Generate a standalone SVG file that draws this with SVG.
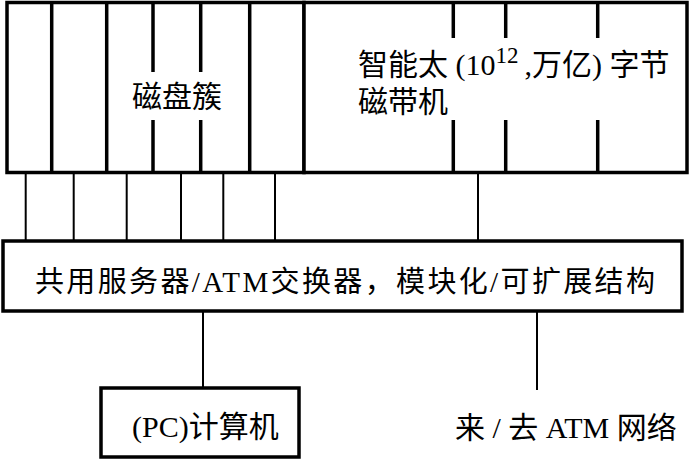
<svg xmlns="http://www.w3.org/2000/svg" width="689" height="460" viewBox="0 0 689 460">
<style>
.box{fill:#fff;stroke:#000;stroke-width:3.5}
.div{stroke:#000;stroke-width:3.5;fill:none}
.con{stroke:#000;stroke-width:2;fill:none}
text{font-family:"Liberation Serif","Noto Sans CJK SC",serif;fill:#000}
.t{font-size:30px}
</style>
<rect width="689" height="460" fill="#fff"/>
<g id="connectors">
<line class="con" x1="25.7" y1="172" x2="25.7" y2="241"/>
<line class="con" x1="73.7" y1="172" x2="73.7" y2="241"/>
<line class="con" x1="126.7" y1="172" x2="126.7" y2="241"/>
<line class="con" x1="181" y1="172" x2="181" y2="241"/>
<line class="con" x1="223.3" y1="172" x2="223.3" y2="241"/>
<line class="con" x1="275" y1="172" x2="275" y2="241"/>
<line class="con" x1="478" y1="172" x2="478" y2="241"/>
<line class="con" x1="203" y1="311" x2="203" y2="388"/>
<line class="con" x1="537" y1="311" x2="537" y2="390"/>
</g>
<g id="disk-cluster">
<rect class="box" x="7" y="2.5" width="297" height="170"/>
<line class="div" x1="51.7" y1="2.5" x2="51.7" y2="172.5"/>
<line class="div" x1="106.7" y1="2.5" x2="106.7" y2="172.5"/>
<line class="div" x1="153" y1="2.5" x2="153" y2="72"/>
<line class="div" x1="153" y1="120" x2="153" y2="172.5"/>
<line class="div" x1="200.7" y1="2.5" x2="200.7" y2="72"/>
<line class="div" x1="200.7" y1="120" x2="200.7" y2="172.5"/>
<line class="div" x1="249.7" y1="2.5" x2="249.7" y2="172.5"/>
<text class="t" x="132" y="107">磁盘簇</text>
</g>
<g id="tape">
<rect class="box" x="304" y="2.5" width="383" height="170"/>
<line class="div" x1="453.3" y1="2.5" x2="453.3" y2="38"/>
<line class="div" x1="453.3" y1="120" x2="453.3" y2="172.5"/>
<line class="div" x1="505.7" y1="2.5" x2="505.7" y2="38"/>
<line class="div" x1="505.7" y1="120" x2="505.7" y2="172.5"/>
<line class="div" x1="597.7" y1="2.5" x2="597.7" y2="38"/>
<line class="div" x1="597.7" y1="120" x2="597.7" y2="172.5"/>
<text class="t" x="358" y="75">智能太 (10<tspan font-size="23" dy="-12">12</tspan><tspan dx="6" dy="12">,万亿) 字节</tspan></text>
<text class="t" x="358" y="112">磁带机</text>
</g>
<g id="switch">
<rect class="box" x="3" y="241" width="679" height="70"/>
<text x="35" y="292" font-size="29" textLength="620" lengthAdjust="spacing">共用服务器/ATM交换器，模块化/可扩展结构</text>
</g>
<g id="pc">
<rect class="box" x="101" y="388" width="198" height="69"/>
<text class="t" x="132" y="437">(PC)计算机</text>
</g>
<g id="atm-network">
<text class="t" x="455" y="438">来 / 去 ATM 网络</text>
</g>
</svg>
